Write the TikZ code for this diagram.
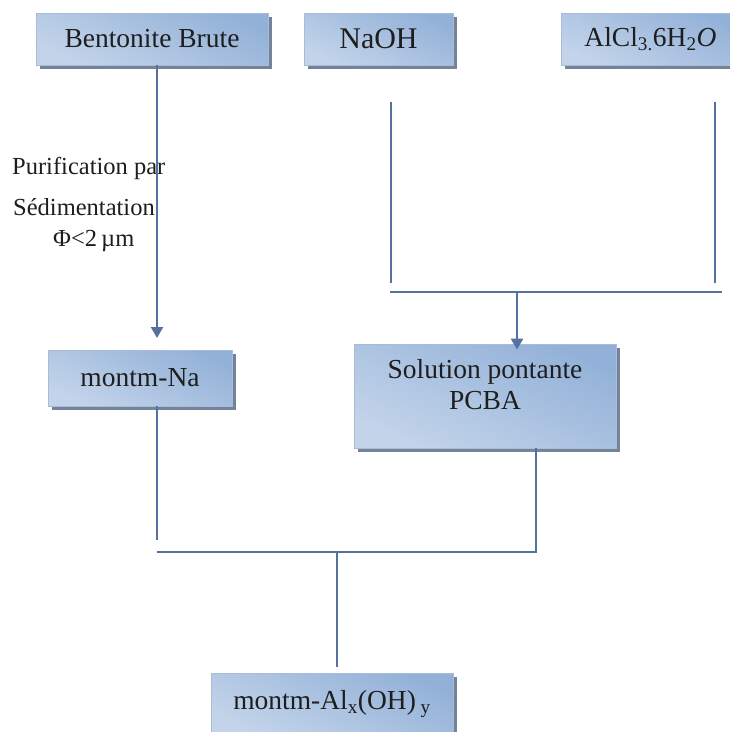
\documentclass[tikz,border=0pt]{standalone}
\usepackage{fontspec}
\setmainfont{Liberation Serif}
\usetikzlibrary{arrows.meta,shadows}
\definecolor{boxdark}{HTML}{93B1D8}
\definecolor{boxmid}{HTML}{EEF3F9}
\definecolor{boxlow}{HTML}{C3D4EA}
\definecolor{boxline}{HTML}{A9BCD6}
\definecolor{boxshadow}{HTML}{74839A}
\definecolor{linkcol}{HTML}{5571A1}
\definecolor{txt}{HTML}{1E1E1E}
\tikzset{
  pbox/.style={rectangle, draw=boxline, line width=0.8pt,
    top color=boxdark, middle color=boxmid, bottom color=boxlow, shading angle=-25,
    drop shadow={shadow xshift=4pt, shadow yshift=-4pt, opacity=1, fill=boxshadow},
    text=txt, font=\fontsize{27.5}{31}\selectfont, inner sep=0pt},
  link/.style={draw=linkcol, line width=2.2pt},
  arr/.style={link, -{Triangle[width=12pt,length=11pt]}},
  lbl/.style={text=txt, font=\fontsize{24.5}{28}\selectfont, inner sep=0pt, anchor=west}
}
\begin{document}
\begin{tikzpicture}[x=1pt,y=-1pt]
\useasboundingbox[fill=white] (0,0) rectangle (730,732);
% boxes
\node[pbox, minimum width=232pt, minimum height=52pt] (bent) at (152,39) {Bentonite Brute};
\node[pbox, minimum width=149pt, minimum height=52pt, font=\fontsize{30}{34}\selectfont] (naoh) at (378.5,39) {NaOH};
\node[pbox, minimum width=179pt, minimum height=52pt] (alcl) at (650.5,39) {AlCl\textsubscript{3.}6H\textsubscript{2}\textit{O}};
\node[pbox, minimum width=184pt, minimum height=56pt] (na) at (140,378) {montm-Na};
\node[pbox, minimum width=262pt, minimum height=104pt, align=center] (sol) at (485,396) {Solution pontante\\PCBA\rule[-24pt]{0pt}{0pt}};
\node[pbox, minimum width=242pt, minimum height=62pt] (al) at (332,704) {montm-Al\textsubscript{x}(OH)\,\textsubscript{y}};
% labels
\node[lbl] (l1) at (12,168) {Purification par};
\node[lbl] (l2) at (13,207) {Sédimentation};
\node[lbl] (l3) at (53,241) {Φ<2\,µm};
% coordinates
\coordinate (a1) at (157,338);
\coordinate (n1) at (391,102);
\coordinate (n2) at (391,283);
\coordinate (c1) at (715,102);
\coordinate (c2) at (715,283);
\coordinate (h1) at (390,292);
\coordinate (h2) at (722,292);
\coordinate (hm) at (517,292);
\coordinate (m1) at (157,540);
\coordinate (j1) at (157,552);
\coordinate (jr) at (536,552);
\coordinate (jm) at (337,552);
\coordinate (jb) at (337,667);
% connectors
\draw[arr] (bent.south -| a1) -- (a1);
\draw[link] (n1) -- (n2);
\draw[link] (c1) -- (c2);
\draw[link] (h1) -- (h2);
\draw[arr, shorten >=-6pt] (hm) -- (sol.north -| hm);
\draw[link] (na.south -| m1) -- (m1);
\draw[link] (sol.south -| jr) -- (jr) -- (j1);
\draw[link] (jm) -- (jb);
\end{tikzpicture}
\end{document}
